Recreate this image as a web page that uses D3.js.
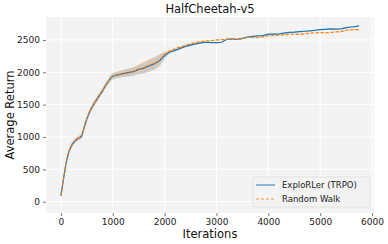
<!DOCTYPE html>
<html><head><meta charset="utf-8">
<script src="https://cdn.jsdelivr.net/npm/d3@7"></script>
<style>body{margin:0;background:#fff}svg{display:block;font-family:"DejaVu Sans",sans-serif}</style>
</head><body>
<svg id="c" width="388" height="244"></svg>
<script>
const title = "HalfCheetah-v5";
const xLabel = "Iterations";
const yLabel = "Average Return";
const seriesNames = ["ExploRLer (TRPO)", "Random Walk"];
const xTicks = [0, 1000, 2000, 3000, 4000, 5000, 6000];
const yTicks = [0, 500, 1000, 1500, 2000, 2500];
const iterations = [0,50,100,150,200,250,300,350,400,450,500,550,600,650,700,750,800,850,900,950,1000,1100,1200,1300,1400,1500,1600,1700,1800,1900,2000,2100,2200,2300,2400,2500,2600,2700,2800,2900,3000,3100,3200,3300,3400,3500,3600,3700,3800,3900,4000,4100,4200,4300,4400,4500,4600,4700,4800,4900,5000,5100,5200,5300,5400,5500,5600,5700,5750];
const explorer = [90,350,600,760,860,920,960,985,1010,1150,1280,1380,1460,1530,1590,1650,1710,1780,1840,1900,1940,1960,1980,1995,2010,2045,2065,2100,2130,2180,2260,2315,2340,2370,2400,2420,2440,2455,2465,2460,2458,2465,2510,2515,2510,2525,2545,2555,2565,2568,2590,2590,2592,2605,2618,2622,2628,2635,2640,2650,2660,2665,2670,2668,2672,2690,2700,2710,2720];
const randomWalk = [100,360,610,770,865,925,965,990,1015,1155,1285,1385,1465,1535,1595,1655,1715,1785,1845,1905,1945,1965,1985,2000,2015,2050,2075,2110,2140,2190,2275,2330,2360,2390,2415,2440,2460,2475,2485,2490,2500,2505,2510,2515,2510,2520,2540,2540,2542,2550,2565,2566,2575,2580,2587,2590,2587,2595,2603,2610,2613,2612,2615,2625,2630,2650,2658,2660,2655];
const explorerStd = [40,40,40,40,35,35,35,35,35,40,40,40,40,40,40,40,40,40,40,45,50,50,55,60,65,70,80,90,95,90,50,20,15,15,12,12,12,12,10,10,10,10,10,10,10,10,10,10,10,10,10,10,10,10,10,10,10,10,10,10,10,10,10,10,10,10,10,10,10];
const randomWalkStd = [40,40,40,40,35,35,35,35,35,40,40,40,40,40,40,40,40,40,40,45,50,50,55,60,65,75,95,95,95,90,50,20,15,15,12,12,12,12,10,10,10,10,10,10,10,10,10,10,10,10,10,10,10,10,10,10,10,10,10,10,10,10,10,10,10,10,10,10,10];

const svg = d3.select("#c");
const m = {l:46, r:374, t:17, b:213};
const x = d3.scaleLinear().domain([-287.5, 6037.5]).range([m.l, m.r]);
const y = d3.scaleLinear().domain([-175, 2855]).range([m.b, m.t]);

svg.append("rect").attr("x", m.l).attr("y", m.t).attr("width", m.r-m.l).attr("height", m.b-m.t).attr("fill", "#f3f3f3");

const gx = svg.append("g").attr("transform", `translate(0,${m.b})`)
  .call(d3.axisBottom(x).tickValues(xTicks).tickFormat(d3.format("d")).tickSize(3).tickPadding(3));
const gy = svg.append("g").attr("transform", `translate(${m.l},0)`)
  .call(d3.axisLeft(y).tickValues(yTicks).tickFormat(d3.format("d")).tickSize(3).tickPadding(3));
[gx, gy].forEach(g => {
  g.select(".domain").remove();
  g.selectAll(".tick line").attr("stroke", "#555").attr("stroke-width", 0.8);
  g.selectAll(".tick text").attr("fill", "#222").style("font-size", "9px").style("font-family", "DejaVu Sans");
});

// grid
svg.append("g").selectAll("line").data(xTicks).join("line")
  .attr("x1", d => x(d)).attr("x2", d => x(d)).attr("y1", m.t).attr("y2", m.b)
  .attr("stroke", "#fff").attr("stroke-width", 1);
svg.append("g").selectAll("line").data(yTicks).join("line")
  .attr("x1", m.l).attr("x2", m.r).attr("y1", d => y(d)).attr("y2", d => y(d))
  .attr("stroke", "#fff").attr("stroke-width", 1);

const series = [
  {name: seriesNames[0], vals: explorer, std: explorerStd, color: "#1f77b4", dash: null},
  {name: seriesNames[1], vals: randomWalk, std: randomWalkStd, color: "#ff7f0e", dash: "3,2"}
];
const area = d3.area().x(d => x(d[0])).y0(d => y(d[1]-d[2])).y1(d => y(d[1]+d[2]));
const line = d3.line().x(d => x(d[0])).y(d => y(d[1]));
series.forEach(s => {
  const pts = iterations.map((it, i) => [it, s.vals[i], s.std[i]]);
  svg.append("path").datum(pts).attr("d", area).attr("fill", s.color).attr("opacity", 0.2);
});
series.forEach(s => {
  const pts = iterations.map((it, i) => [it, s.vals[i], s.std[i]]);
  svg.append("path").datum(pts).attr("d", line).attr("fill", "none")
    .attr("stroke", s.color).attr("stroke-width", 1.2).attr("stroke-dasharray", s.dash);
});

// title and labels
svg.append("text").attr("x", (m.l+m.r)/2).attr("y", 13).attr("text-anchor", "middle")
  .style("font-size", "11.5px").attr("fill", "#111").text(title);
svg.append("text").attr("x", (m.l+m.r)/2).attr("y", 238).attr("text-anchor", "middle")
  .style("font-size", "11.5px").attr("fill", "#111").text(xLabel);
svg.append("text").attr("transform", `translate(14,${(m.t+m.b)/2}) rotate(-90)`).attr("text-anchor", "middle")
  .style("font-size", "11.5px").attr("fill", "#111").text(yLabel);

// legend
const lg = svg.append("g");
lg.append("rect").attr("x", 253).attr("y", 177).attr("width", 117).attr("height", 30).attr("rx", 2)
  .attr("fill", "#f3f3f3").attr("fill-opacity", 0.8).attr("stroke", "#ddd").attr("stroke-width", 0.8);
series.forEach((s, i) => {
  const cy = 185 + i*14;
  lg.append("line").attr("x1", 256).attr("x2", 275).attr("y1", cy).attr("y2", cy)
    .attr("stroke", s.color).attr("stroke-width", 1.2).attr("stroke-dasharray", s.dash).attr("opacity", 0.8);
  lg.append("text").attr("x", 282).attr("y", cy + 3).style("font-size", "8.5px").attr("fill", "#222").text(s.name);
});
</script>
</body></html>
